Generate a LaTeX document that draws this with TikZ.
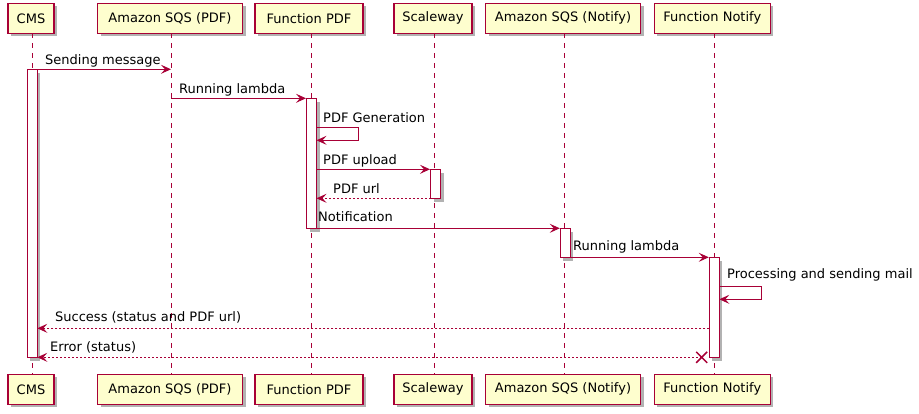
\documentclass[tikz,border=0pt]{standalone}
\usepackage{fontspec}
\setmainfont{DejaVu Sans}
\usetikzlibrary{arrows.meta,shadows,calc}
\definecolor{pline}{HTML}{A80036}
\definecolor{pfill}{HTML}{FEFECE}
\begin{document}
\begin{tikzpicture}[x=1pt,y=-1pt,
  every node/.style={font=\fontsize{13}{15}\selectfont, inner sep=0pt},
  part/.style={draw=pline, fill=pfill, line width=1.1pt, minimum height=30pt,
    drop shadow={shadow xshift=3pt, shadow yshift=-3pt, fill=black, opacity=0.3}},
  life/.style={draw=pline, line width=0.8pt, dash pattern=on 5pt off 5pt},
  actbox/.style={draw=pline, fill=white, line width=1pt, minimum width=10pt, anchor=north,
    drop shadow={shadow xshift=3pt, shadow yshift=-3pt, fill=black, opacity=0.3}},
  msg/.style={draw=pline, line width=1pt, -{Stealth[length=10pt,width=9pt,inset=4pt]}},
  ret/.style={msg, dash pattern=on 2pt off 2pt},
  lbl/.style={anchor=base west}
]
\useasboundingbox (0,0) rectangle (919,414);
% participants top
\node[part, minimum width=46pt]  (cmsT)  at (31,18.3) {CMS};
\node[part, minimum width=145pt] (sqspT) at (170,18.3) {Amazon SQS (PDF)};
\node[part, minimum width=108pt] (fpdfT) at (309,18.3) {Function PDF};
\node[part, minimum width=78pt]  (scwT)  at (433,18.3) {Scaleway};
\node[part, minimum width=155pt] (sqsnT) at (563,18.3) {Amazon SQS (Notify)};
\node[part, minimum width=116pt] (fnT)   at (712.3,18.3) {Function Notify};
% participants bottom
\node[part, minimum width=46pt]  (cmsB)  at (31,389.3) {CMS};
\node[part, minimum width=145pt] (sqspB) at (170,389.3) {Amazon SQS (PDF)};
\node[part, minimum width=108pt] (fpdfB) at (309,389.3) {Function PDF};
\node[part, minimum width=78pt]  (scwB)  at (433,389.3) {Scaleway};
\node[part, minimum width=155pt] (sqsnB) at (563,389.3) {Amazon SQS (Notify)};
\node[part, minimum width=116pt] (fnB)   at (712.3,389.3) {Function Notify};
% lifelines
\foreach \x/\n in {32.3/cms,171/sqsp,311.3/fpdf,434/scw,564.3/sqsn,714.3/fn}{
  \draw[life] (\x,33.3) -- (\x,374.3);
}
% activation boxes
\node[actbox, minimum height=288pt] (aCms)  at (32.3,69.3) {};
\node[actbox, minimum height=130pt] (aFpdf) at (311.5,98.3) {};
\node[actbox, minimum height=29pt]  (aScw)  at (435.5,169.3) {};
\node[actbox, minimum height=29pt]  (aSqsn) at (565.3,228.3) {};
\node[actbox, minimum height=100pt] (aFn)   at (714.3,257.3) {};
% coordinates
\coordinate (c1) at (32.3,69.3);
\coordinate (s1) at (171,69.3);
\coordinate (s2) at (171,98.3);
\coordinate (g1) at (316.5,127.7);
\coordinate (g2) at (358,127.7);
\coordinate (g3) at (358,140.3);
\coordinate (g4) at (316.5,140.3);
\coordinate (u1) at (316.5,169.3);
\coordinate (r1) at (430.5,198.3);
\coordinate (r2) at (316.5,198.3);
\coordinate (n1) at (316.5,228.3);
\coordinate (m1) at (570.3,257.3);
\coordinate (p1) at (719.3,286.7);
\coordinate (p2) at (761.7,286.7);
\coordinate (p3) at (761.7,299.3);
\coordinate (p4) at (719.3,299.3);
\coordinate (ok1) at (709.3,328.3);
\coordinate (ok2) at (37.3,328.3);
\coordinate (er1) at (701.7,357.3);
\coordinate (er2) at (37.3,357.3);
% messages
\draw[msg] (c1) -- (s1);
\node[lbl] (l1) at (45,65) {Sending message};
\draw[msg] (s2) -- (aFpdf.north west);
\node[lbl] (l2) at (179,94) {Running lambda};
\draw[msg] (g1) -- (g2) -- (g3) -- (g4);
\node[lbl] (l3) at (323,123) {PDF Generation};
\draw[msg] (u1) -- (aScw.north west);
\node[lbl] (l4) at (323,165) {PDF upload};
\draw[ret] (r1) -- (r2);
\node[lbl] (l5) at (333,194) {PDF url};
\draw[msg] (n1) -- (aSqsn.north west);
\node[lbl] (l6) at (318,222) {Notification};
\draw[msg] (m1) -- (aFn.north west);
\node[lbl] (l7) at (573,251) {Running lambda};
\draw[msg] (p1) -- (p2) -- (p3) -- (p4);
\node[lbl] (l8) at (727,279) {Processing and sending mail};
\draw[ret] (ok1) -- (ok2);
\node[lbl] (l9) at (55,322) {Success (status and PDF url)};
\draw[ret] (er1) -- (er2);
\node[lbl] (l10) at (50,351) {Error (status)};
\draw[draw=pline, line width=1.5pt] ($(er1)+(-5.5,-5.5)$) -- ($(er1)+(5.5,5.5)$)
  ($(er1)+(-5.5,5.5)$) -- ($(er1)+(5.5,-5.5)$);
\end{tikzpicture}
\end{document}
